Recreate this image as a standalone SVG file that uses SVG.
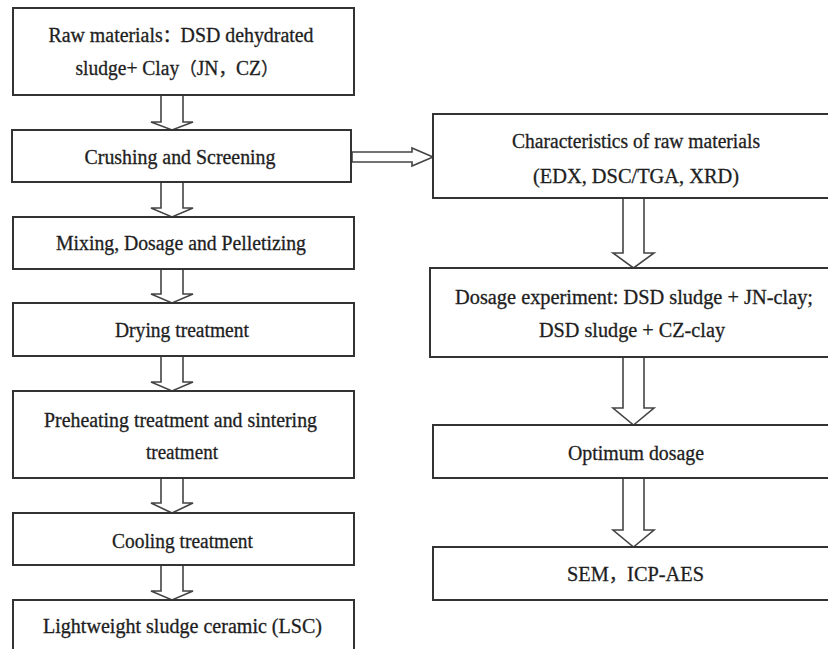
<svg xmlns="http://www.w3.org/2000/svg" width="828" height="649" viewBox="0 0 828 649">
<style>
.box{fill:#fff;stroke:#333;stroke-width:2}
.arr{fill:#fff;stroke:#444;stroke-width:1.6;stroke-linejoin:miter}
.t{font-family:"Liberation Serif","Times New Roman",serif;font-size:20px;fill:#1e1e1e;stroke:#1e1e1e;stroke-width:0.3;text-anchor:middle}
.cjk{font-family:"Noto Sans CJK SC",sans-serif;font-size:18px}
</style>
<rect width="828" height="649" fill="#fff"/>
<g id="connectors">
<polygon class="arr" points="161,95 161,122 151,122 172,130 193,122 183,122 183,95"/>
<polygon class="arr" points="161,182 161,208 151,208 172,217 193,208 183,208 183,182"/>
<polygon class="arr" points="161,269 161,294 151,294 172,303 193,294 183,294 183,269"/>
<polygon class="arr" points="161,356 161,382 151,382 172,391 193,382 183,382 183,356"/>
<polygon class="arr" points="161,478 161,503 151,503 172,513 193,503 183,503 183,478"/>
<polygon class="arr" points="161,565 161,591 151,591 172,600 193,591 183,591 183,565"/>
<polygon class="arr" points="352,152 412,152 412,148 433,157 412,166 412,162 352,162"/>
<polygon class="arr" points="623,198 623,253 613,253 633.5,268 654,253 644,253 644,198"/>
<polygon class="arr" points="623,357 623,408 613,408 633.5,425 654,408 644,408 644,357"/>
<polygon class="arr" points="623,478 623,530 613,530 633.5,547 654,530 644,530 644,478"/>
</g>
<g id="n1"><rect class="box" x="13" y="8" width="341" height="87"/>
<text class="t" x="181" y="42" textLength="265" lengthAdjust="spacingAndGlyphs">Raw materials<tspan class="cjk">：</tspan>DSD dehydrated</text>
<text class="t" x="177" y="75" textLength="203" lengthAdjust="spacingAndGlyphs">sludge+ Clay<tspan class="cjk">（</tspan>JN<tspan class="cjk">，</tspan>CZ<tspan class="cjk">）</tspan></text></g>
<g id="n2"><rect class="box" x="12" y="130" width="339" height="52"/>
<text class="t" x="180" y="164" textLength="191" lengthAdjust="spacingAndGlyphs">Crushing and Screening</text></g>
<g id="n3"><rect class="box" x="13" y="217" width="341" height="52"/>
<text class="t" x="181" y="250" textLength="250" lengthAdjust="spacingAndGlyphs">Mixing, Dosage and Pelletizing</text></g>
<g id="n4"><rect class="box" x="13" y="303" width="341" height="53"/>
<text class="t" x="182" y="337" textLength="134" lengthAdjust="spacingAndGlyphs">Drying treatment</text></g>
<g id="n5"><rect class="box" x="13" y="391" width="341" height="87"/>
<text class="t" x="180.5" y="427" textLength="273" lengthAdjust="spacingAndGlyphs">Preheating treatment  and sintering</text>
<text class="t" x="182" y="459" textLength="72" lengthAdjust="spacingAndGlyphs">treatment</text></g>
<g id="n6"><rect class="box" x="13" y="513" width="341" height="52"/>
<text class="t" x="182.5" y="548" textLength="141" lengthAdjust="spacingAndGlyphs">Cooling treatment</text></g>
<g id="n7"><rect class="box" x="13" y="600" width="341" height="60"/>
<text class="t" x="182.5" y="633" textLength="279" lengthAdjust="spacingAndGlyphs">Lightweight sludge ceramic (LSC)</text></g>
<g id="r1"><rect class="box" x="433" y="114" width="410" height="84"/>
<text class="t" x="636" y="148" textLength="248" lengthAdjust="spacingAndGlyphs">Characteristics  of raw materials</text>
<text class="t" x="636" y="183" textLength="206" lengthAdjust="spacingAndGlyphs">(EDX, DSC/TGA, XRD)</text></g>
<g id="r2"><rect class="box" x="430" y="268" width="413" height="89"/>
<text class="t" x="634" y="304" textLength="358" lengthAdjust="spacingAndGlyphs">Dosage experiment: DSD sludge  + JN-clay;</text>
<text class="t" x="632" y="337" textLength="186" lengthAdjust="spacingAndGlyphs">DSD sludge + CZ-clay</text></g>
<g id="r3"><rect class="box" x="433" y="425" width="410" height="53"/>
<text class="t" x="636" y="460" textLength="136" lengthAdjust="spacingAndGlyphs">Optimum dosage</text></g>
<g id="r4"><rect class="box" x="433" y="547" width="410" height="53"/>
<text class="t" x="635.5" y="581" textLength="137" lengthAdjust="spacingAndGlyphs">SEM<tspan class="cjk">，</tspan>ICP-AES</text></g>
</svg>
